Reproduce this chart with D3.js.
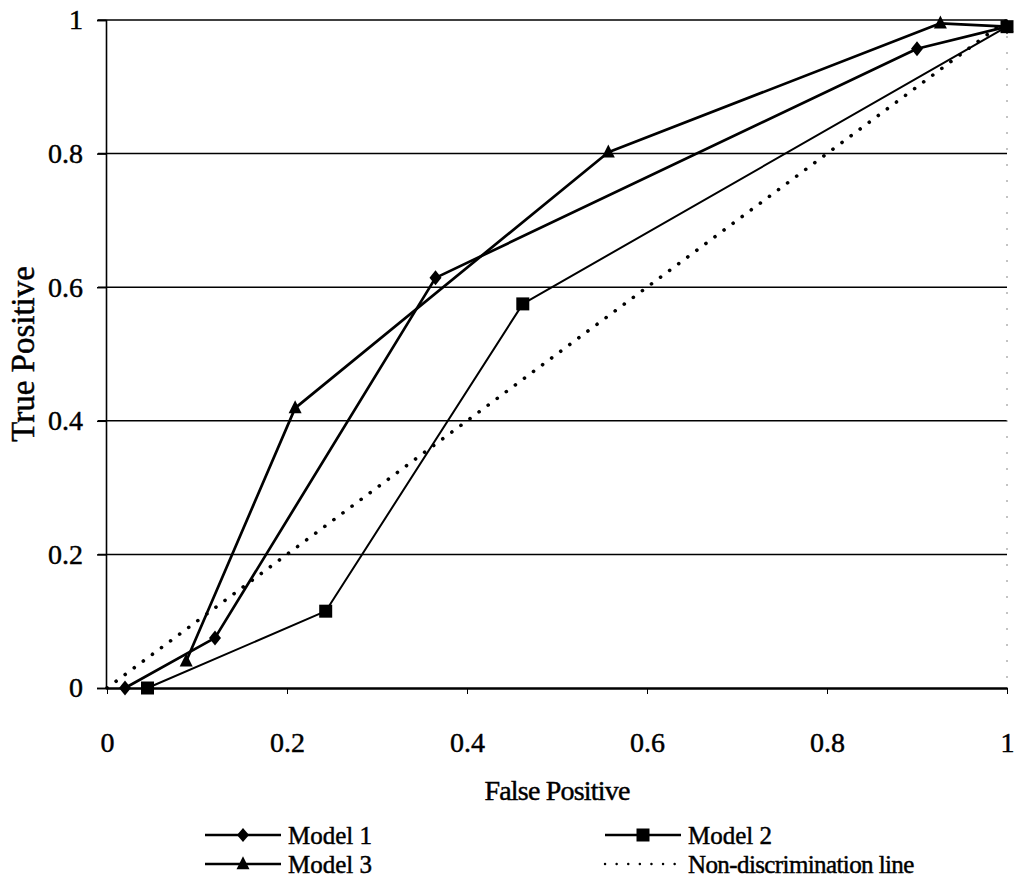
<!DOCTYPE html>
<html>
<head>
<meta charset="utf-8">
<script src="https://cdn.jsdelivr.net/npm/d3@7"></script>
<style>
  html, body { margin: 0; padding: 0; background: #fff; }
  svg { display: block; }
  text { font-family: "Liberation Serif", "Times New Roman", serif; fill: #000; stroke: #000; stroke-width: 0.45px; }
</style>
</head>
<body>
<svg id="chart" width="1020" height="889"></svg>
<script>
// ROC points (false positive rate, true positive rate) for each model
const model1FP = [0.02, 0.12, 0.365, 0.90, 1.0];
const model1TP = [0.0, 0.075, 0.614, 0.957, 0.99];
const model2FP = [0.045, 0.243, 0.462, 1.0];
const model2TP = [0.0, 0.115, 0.575, 0.99];
const model3FP = [0.088, 0.209, 0.557, 0.926, 1.0];
const model3TP = [0.04, 0.419, 0.802, 0.995, 0.99];
// Non-discrimination (random classifier) diagonal
const diagFP = [0, 1];
const diagTP = [0, 1];

const xTicks = [0, 0.2, 0.4, 0.6, 0.8, 1];
const yTicks = [0, 0.2, 0.4, 0.6, 0.8, 1];
const seriesNames = ["Model 1", "Model 2", "Model 3", "Non-discrimination line"];

const svg = d3.select("#chart");
const x = d3.scaleLinear().domain([0, 1]).range([107, 1007]);
const y = d3.scaleLinear().domain([0, 1]).range([688, 20]);

const zip = (a, b) => a.map((v, i) => [v, b[i]]);
const line = d3.line().x(d => x(d[0])).y(d => y(d[1]));

// marker shapes
const diamond = (w, h) => `M0,${-h}L${w},0L0,${h}L${-w},0Z`;
const square = s => `M${-s},${-s}H${s}V${s}H${-s}Z`;
const triangle = (w, h) => `M0,${-h * 0.6}L${w},${h * 0.4}L${-w},${h * 0.4}Z`;

// horizontal gridlines with left tick stubs
const grid = svg.append("g");
grid.selectAll("line.grid").data(yTicks.filter(t => t > 0)).join("line")
  .attr("x1", x(0) - 9).attr("x2", x(1))
  .attr("y1", d => y(d)).attr("y2", d => y(d))
  .attr("stroke", "#000").attr("stroke-width", 1.5);

// faint right border
svg.append("line")
  .attr("x1", x(1)).attr("x2", x(1)).attr("y1", y(1)).attr("y2", y(0))
  .attr("stroke", "#888").attr("stroke-width", 1).attr("stroke-dasharray", "2 14");

// y axis
const yAxis = d3.axisLeft(y).tickValues(yTicks).tickFormat(d3.format("")).tickSize(9).tickPadding(14);
const gy = svg.append("g").attr("transform", `translate(${x(0) - 1},0)`).call(yAxis);
gy.select(".domain").attr("stroke", "#000").attr("stroke-width", 1.6);
gy.selectAll(".tick line").attr("stroke", "#000").attr("stroke-width", 1.5);
gy.selectAll(".tick text").attr("font-size", 28).attr("font-family", "Liberation Serif").attr("fill", "#000");

// x axis
const xAxis = d3.axisBottom(x).tickValues(xTicks).tickFormat(d3.format("")).tickSizeInner(6).tickSizeOuter(0).tickPadding(38);
const gx = svg.append("g").attr("transform", `translate(0,${y(0)})`).call(xAxis);
gx.select(".domain").attr("stroke", "#000").attr("stroke-width", 2.6);
gx.selectAll(".tick line").attr("stroke", "#000").attr("stroke-width", 1);
gx.selectAll(".tick text").attr("font-size", 28).attr("font-family", "Liberation Serif").attr("fill", "#000")
  .attr("dy", 0).attr("y", 64);

// axis titles
svg.append("text").attr("x", (x(0) + x(1)) / 2).attr("y", 800)
  .attr("text-anchor", "middle").attr("font-size", 28).attr("letter-spacing", -0.8)
  .text("False Positive");
svg.append("text")
  .attr("transform", `translate(34,${(y(0) + y(1)) / 2}) rotate(-90)`)
  .attr("text-anchor", "middle").attr("font-size", 33)
  .text("True Positive");

// diagonal
svg.append("path").datum(zip(diagFP, diagTP)).attr("d", line)
  .attr("fill", "none").attr("stroke", "#000").attr("stroke-width", 3.6)
  .attr("stroke-linecap", "round").attr("stroke-dasharray", "0.1 11.2");

function drawSeries(fp, tp, width, shape) {
  const g = svg.append("g");
  g.append("path").datum(zip(fp, tp)).attr("d", line)
    .attr("fill", "none").attr("stroke", "#000").attr("stroke-width", width)
    .attr("stroke-linejoin", "round");
  g.selectAll("path.m").data(zip(fp, tp)).join("path").attr("class", "m")
    .attr("d", shape).attr("transform", d => `translate(${x(d[0])},${y(d[1])})`)
    .attr("fill", "#000");
}

drawSeries(model3FP, model3TP, 2.7, triangle(6.5, 13));
drawSeries(model1FP, model1TP, 2.7, diamond(6, 7.5));
drawSeries(model2FP, model2TP, 2.0, square(6.5));

// legend
const legend = svg.append("g");
const legendItems = [
  { name: seriesNames[0], x0: 205, y0: 835, shape: diamond(6, 7), dotted: false },
  { name: seriesNames[1], x0: 605, y0: 835, shape: square(6.5), dotted: false },
  { name: seriesNames[2], x0: 205, y0: 864, shape: triangle(6.5, 13), dotted: false },
  { name: seriesNames[3], x0: 605, y0: 864, shape: null, dotted: true }
];
legendItems.forEach(it => {
  const l = legend.append("line").attr("x1", it.x0).attr("x2", it.x0 + 76)
    .attr("y1", it.y0).attr("y2", it.y0).attr("stroke", "#000");
  if (it.dotted) {
    l.attr("stroke-width", 2.4).attr("stroke-linecap", "round").attr("stroke-dasharray", "0.1 11.5");
  } else {
    l.attr("stroke-width", 2.6);
  }
  if (it.shape) {
    legend.append("path").attr("d", it.shape)
      .attr("transform", `translate(${it.x0 + 38},${it.y0})`).attr("fill", "#000");
  }
  legend.append("text").attr("x", it.x0 + 83).attr("y", it.y0 + 9)
    .attr("font-size", 25).attr("letter-spacing", it.dotted ? -0.6 : 0)
    .text(it.name);
});
</script>
</body>
</html>
